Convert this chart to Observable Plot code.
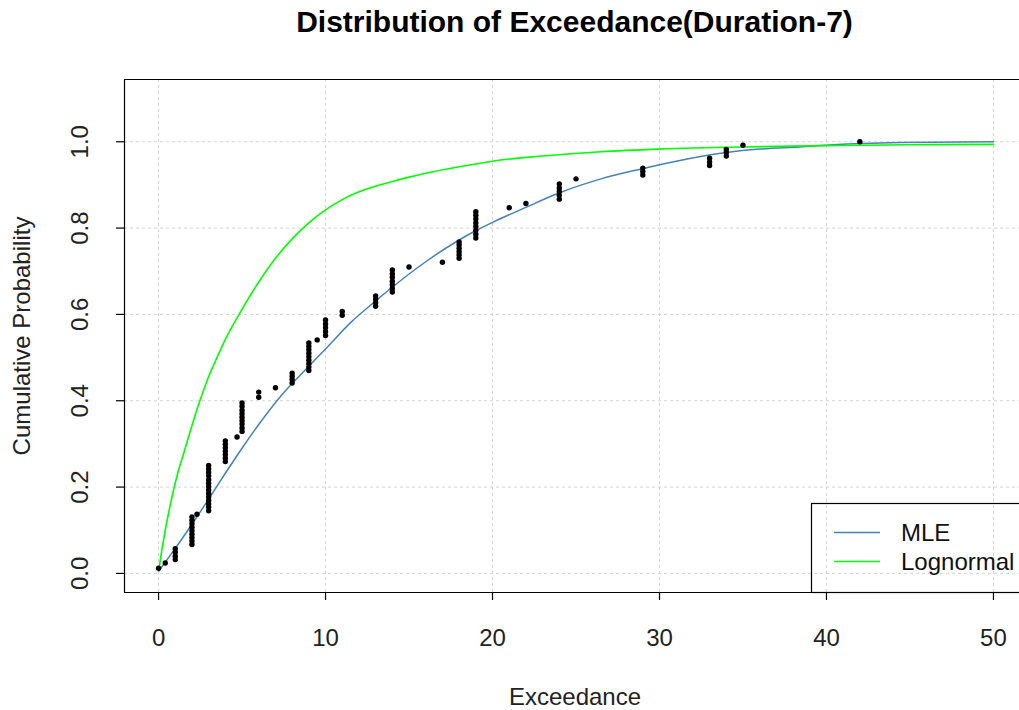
<!DOCTYPE html>
<html><head><meta charset="utf-8">
<script src="https://cdn.jsdelivr.net/npm/d3@7"></script>
<script src="https://cdn.jsdelivr.net/npm/@observablehq/plot@0.6"></script>
<style>
body{margin:0;background:#fff;font-family:"Liberation Sans",Arial,sans-serif;}
#wrap{position:relative;width:1019px;height:710px;overflow:hidden;background:#fff;}
#title{position:absolute;left:0;top:4px;width:1149px;text-align:center;font-weight:bold;font-size:30px;line-height:36px;color:#000;z-index:2;}
</style></head>
<body><div id="wrap"><div id="title">Distribution of Exceedance(Duration-7)</div></div>
<script>
// Empirical points (Exceedance, cumulative probability)
const ptX = [0,0.4,
 1,1,1,1,
 2,2,2,2,2,2,2,2,2, 2.3,
 3,3,3,3,3,3,3,3,3,3,3,3,3,3,
 4,4,4,4,4,4,4, 4.7,
 5,5,5,5,5,5,5,5,5,
 6,6, 7, 8,8,8,8,
 9,9,9,9,9,9,9,9,9, 9.5,
 10,10,10,10,10, 11,11,
 13,13,13,13, 14,14,14,14,14,14,14, 15, 17,
 18,18,18,18,18,18, 19,19,19,19,19,19,19,19,
 21, 22, 24,24,24,24,24, 25,
 29,29,29, 33,33,33, 34,34,34, 35, 42];
const ptY = [0.012,0.024,
 0.032,0.040,0.049,0.057,
 0.067,0.075,0.083,0.091,0.099,0.107,0.115,0.123,0.131, 0.137,
 0.145,0.153,0.161,0.169,0.177,0.185,0.193,0.201,0.209,0.217,0.226,0.234,0.242,0.250,
 0.259,0.267,0.275,0.283,0.291,0.299,0.307, 0.316,
 0.329,0.337,0.346,0.354,0.362,0.370,0.378,0.387,0.395,
 0.408,0.420, 0.430, 0.441,0.449,0.457,0.464,
 0.470,0.478,0.486,0.494,0.502,0.510,0.518,0.526,0.534, 0.541,
 0.551,0.560,0.569,0.578,0.587, 0.598,0.607,
 0.619,0.627,0.635,0.643, 0.652,0.660,0.669,0.677,0.686,0.694,0.703, 0.710, 0.721,
 0.730,0.738,0.745,0.753,0.761,0.768, 0.777,0.786,0.795,0.804,0.812,0.821,0.830,0.838,
 0.847, 0.857, 0.867,0.876,0.885,0.893,0.902, 0.914,
 0.923,0.931,0.939, 0.945,0.953,0.962, 0.967,0.975,0.982, 0.992, 1.000];

// MLE fitted curve
const mleX = [0,1,2,3,4,5,6,7.3,8.9,10,11.5,12.9,13.9,16,18.9,20.1,22,23.9,26.5,28.9,31,34,36,38.4,40.4,44.4,50];
const mleY = [0.005,0.058,0.114,0.172,0.232,0.29,0.345,0.41,0.476,0.52,0.581,0.628,0.66,0.722,0.792,0.815,0.848,0.88,0.914,0.937,0.955,0.975,0.983,0.988,0.993,0.998,1.0];

// Lognormal fitted curve
const lnX = [0,0.2,0.4,0.72,1.1,1.52,1.9,2.3,2.7,3.15,3.5,4,5,6,7,8,9,10,11,12,13,14,15,16,18,20,23,26.5,30,35,40,45,50];
const lnY = [0.005,0.055,0.1,0.162,0.225,0.28,0.33,0.38,0.425,0.47,0.50,0.542,0.612,0.675,0.73,0.775,0.812,0.842,0.866,0.884,0.897,0.908,0.918,0.927,0.942,0.955,0.967,0.977,0.983,0.988,0.991,0.993,0.994];

const xTicks = [0,10,20,30,40,50];
const yTicks = [0,0.2,0.4,0.6,0.8,1.0];
const seriesNames = ["MLE","Lognormal"];
const seriesColors = ["steelblue","#00ff00"];

const xDom = [-2.04, 51.56], yDom = [-0.0442, 1.1442];
const gridStyle = {stroke:"#d3d3d3", strokeOpacity:1, strokeDasharray:"3,3"};
const font = '"Liberation Sans", Arial, sans-serif';

const chart = Plot.plot({
  width:1019, height:710,
  marginLeft:124, marginRight:0, marginTop:79, marginBottom:118,
  x:{domain:xDom}, y:{domain:yDom},
  style:{fontFamily:font, fontSize:"24px", background:"transparent", color:"#000"},
  marks:[
    Plot.gridX(xTicks, gridStyle),
    Plot.gridY(yTicks, gridStyle),
    Plot.line(mleX, {x:mleX, y:mleY, stroke:seriesColors[0], strokeWidth:1.5, curve:"monotone-x"}),
    Plot.line(lnX, {x:lnX, y:lnY, stroke:seriesColors[1], strokeWidth:1.6, curve:"monotone-x"}),
    Plot.dot(ptX, {x:ptX, y:ptY, r:2.7, fill:"black", stroke:null}),
    Plot.ruleX([xDom[0]], {stroke:"#000", strokeWidth:1.2}),
    Plot.ruleY([yDom[0], yDom[1]], {stroke:"#000", strokeWidth:1.2}),
    Plot.axisX(xTicks, {tickSize:8, tickFormat:()=>"", label:null, strokeWidth:1.2}),
    Plot.axisY(yTicks, {tickSize:8, tickFormat:()=>"", label:null, strokeWidth:1.2}),
    Plot.text(xTicks, {x:d=>d, frameAnchor:"bottom", dy:46, lineAnchor:"middle", text:d=>String(d), fontSize:24, fill:"#222"}),
    Plot.text(yTicks, {y:d=>d, frameAnchor:"left", dx:-44, rotate:-90, lineAnchor:"middle", textAnchor:"middle", text:d=>d.toFixed(1), fontSize:24, fill:"#222"}),
    Plot.text(["Exceedance"], {frameAnchor:"bottom", dx:3, dy:105, lineAnchor:"middle", fontSize:24, fill:"#222"}),
    Plot.text(["Cumulative Probability"], {frameAnchor:"left", dx:-102, rotate:-90, lineAnchor:"middle", textAnchor:"middle", fontSize:24, fill:"#222"})
  ]
});
chart.style.position = "absolute";
chart.style.left = "0px";
chart.style.top = "0px";
document.getElementById("wrap").appendChild(chart);

// legend box
const svg = d3.select(chart);
const lg = svg.append("g");
lg.append("rect").attr("x",811.5).attr("y",503.5).attr("width",300).attr("height",89)
  .attr("fill","none").attr("stroke","#000").attr("stroke-width",1.2);
seriesNames.forEach((name,i)=>{
  const yy = 532.5 + i*29;
  lg.append("line").attr("x1",834).attr("x2",880).attr("y1",yy).attr("y2",yy)
    .attr("stroke",seriesColors[i]).attr("stroke-width",1.6);
  lg.append("text").attr("x",901).attr("y",yy).attr("dy","0.35em")
    .attr("text-anchor","start")
    .attr("font-family",font).attr("font-size",24).attr("fill","#111").text(name);
});
</script>
</body></html>
